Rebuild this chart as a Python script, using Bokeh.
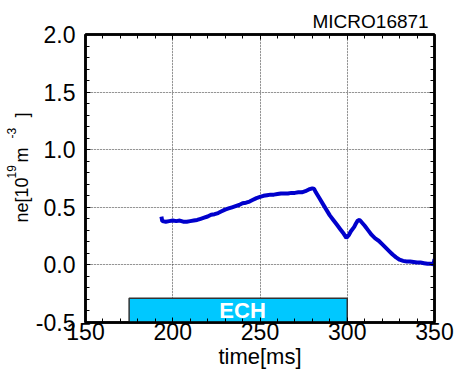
from bokeh.plotting import figure
from bokeh.models import (LinearAxis, FixedTicker, Range1d, ColumnDataSource,
                          CustomJSTickFormatter, Title, Grid)
from bokeh.core.properties import value
from bokeh.embed import file_html
from bokeh.resources import INLINE

# ---- data ----
time_ms = [193.5, 194, 196, 198, 200, 202, 204, 206, 208, 210, 212, 214, 216, 218, 220,
           222, 224, 226, 228, 230, 232, 234, 236, 238, 240, 242, 244, 246, 248, 250,
           252, 254, 256, 258, 260, 262, 264, 266, 268, 270, 272, 274, 276, 278, 280,
           281, 282, 284, 286, 288, 290, 292, 294, 296, 298, 299.5, 301, 302, 304, 305,
           306, 307, 308, 310, 312, 314, 316, 318, 320, 322, 324, 326, 328, 330, 332,
           334, 336, 338, 340, 342, 344, 346, 348, 349.5, 350]
ne = [0.42, 0.38, 0.375, 0.38, 0.385, 0.38, 0.385, 0.375, 0.375, 0.38, 0.385, 0.39, 0.40, 0.41, 0.42,
      0.435, 0.44, 0.45, 0.465, 0.48, 0.49, 0.50, 0.51, 0.52, 0.535, 0.54, 0.55, 0.565, 0.58, 0.59,
      0.60, 0.605, 0.61, 0.61, 0.615, 0.62, 0.62, 0.62, 0.625, 0.625, 0.63, 0.63, 0.64, 0.655, 0.665,
      0.66, 0.63, 0.58, 0.53, 0.48, 0.43, 0.39, 0.35, 0.31, 0.27, 0.235, 0.26, 0.29, 0.33, 0.36,
      0.385, 0.39, 0.375, 0.34, 0.30, 0.26, 0.23, 0.21, 0.18, 0.15, 0.12, 0.09, 0.065, 0.045, 0.035,
      0.03, 0.03, 0.025, 0.02, 0.02, 0.015, 0.01, 0.01, 0.005, 0.05]

ech_start = [175]
ech_end = [300]
ech_top = [-0.29]
ech_label = ["ECH"]
ech_label_x = [240]
ech_label_y = [-0.40]

x_major = [150, 200, 250, 300, 350]
x_minor = list(range(150, 351, 10))
y_major = [-0.5, 0.0, 0.5, 1.0, 1.5, 2.0]
y_minor = [round(-0.5 + 0.1 * i, 1) for i in range(26)]

title_text = "MICRO16871"
x_label = "time[ms]"
NB = "\u00a0"
y_label_main = "ne[10" + NB * 3 + "m" + NB * 6 + "]"
y_label_sup = "19" + NB * 8 + "-3"

FONT = "Liberation Sans"

p = figure(width=456, height=371, output_backend="svg", toolbar_location=None,
           x_range=Range1d(150, 350), y_range=Range1d(-0.5, 2.0),
           min_border_left=85, min_border_right=22, min_border_top=34, min_border_bottom=49,
           x_axis_location=None, y_axis_location=None)
p.background_fill_color = "white"
p.border_fill_color = "white"
p.outline_line_color = "black"
p.outline_line_width = 2.5

xt = FixedTicker(ticks=x_major, minor_ticks=x_minor)
yt = FixedTicker(ticks=y_major, minor_ticks=y_minor)


def style_axis(ax, labels):
    ax.axis_line_color = "black"
    ax.axis_line_width = 2.5
    ax.major_tick_in = 5
    ax.major_tick_out = 0
    ax.minor_tick_in = 4
    ax.minor_tick_out = 0
    ax.major_tick_line_color = "black"
    ax.minor_tick_line_color = "black"
    ax.major_tick_line_width = 1
    ax.minor_tick_line_width = 1
    ax.major_label_text_font = FONT
    ax.major_label_text_font_size = "23px"
    ax.major_label_text_color = "black"
    if not labels:
        ax.formatter = CustomJSTickFormatter(code="return ''")
        ax.major_label_text_font_size = "1px"
        ax.major_label_standoff = 0


xb = LinearAxis(ticker=xt)
style_axis(xb, True)
xb.major_label_standoff = 0
p.add_layout(xb, "below")
yl = LinearAxis(ticker=yt, formatter=CustomJSTickFormatter(code="return tick.toFixed(1)"))
style_axis(yl, True)
yl.major_label_standoff = 10
p.add_layout(yl, "left")
xa = LinearAxis(ticker=xt)
style_axis(xa, False)
p.add_layout(xa, "above")
yr = LinearAxis(ticker=yt)
style_axis(yr, False)
p.add_layout(yr, "right")

p.add_layout(Grid(dimension=0, ticker=xt, grid_line_color="#444444", grid_line_width=1,
                  grid_line_dash="1 2"))
p.add_layout(Grid(dimension=1, ticker=yt, grid_line_color="#444444", grid_line_width=1,
                  grid_line_dash="1 2"))

# ECH bar
ech_src = ColumnDataSource(dict(left=ech_start, right=ech_end, top=ech_top,
                                bottom=[-0.5] * len(ech_start),
                                lx=ech_label_x, ly=ech_label_y, txt=ech_label))
p.quad(left="left", right="right", top="top", bottom="bottom", source=ech_src,
       fill_color="#00C8FF", line_color="#333333", line_width=1.5)
p.text(x="lx", y="ly", text="txt", source=ech_src, text_color="white",
       text_font=value(FONT), text_font_style="bold", text_font_size="22px",
       text_align="center", text_baseline="middle")

# signal
p.line(time_ms, ne, line_color="#0000CC", line_width=4)

# title (top right)
p.add_layout(Title(text=title_text, align="left", offset=227, standoff=5,
                   text_font=FONT, text_font_size="19px", text_font_style="normal",
                   text_color="black"), "above")
# x label
p.add_layout(Title(text=x_label, align="center", offset=-13, standoff=-1,
                   text_font=FONT, text_font_size="22px", text_font_style="normal",
                   text_color="black"), "below")
# y label: main line then superscripts
p.add_layout(Title(text=y_label_main, align="left", offset=100, standoff=1,
                   text_font=FONT, text_font_size="18px", text_font_style="normal",
                   text_color="black"), "left")
p.add_layout(Title(text=y_label_sup, align="left", offset=144, standoff=-18,
                   text_font=FONT, text_font_size="12px", text_font_style="normal",
                   text_color="black"), "left")

open("out.html", "w").write(file_html(p, INLINE))
